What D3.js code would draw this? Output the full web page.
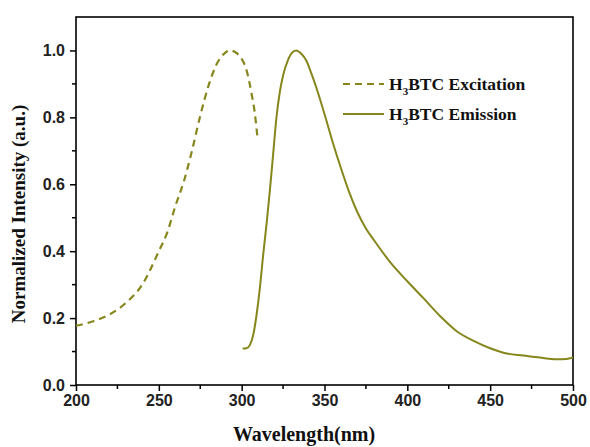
<!DOCTYPE html>
<html><head><meta charset="utf-8">
<script src="https://cdn.jsdelivr.net/npm/d3@7"></script>
<style>body{margin:0;background:#fff}</style>
</head><body><svg id="c" width="590" height="447"></svg>
<script>
const excitationX = [200,210,220,230,240,250,255,260,265,270,275,280,285,290,293,297,300,303,306,308,309.6];
const excitationY = [0.177,0.19,0.21,0.245,0.30,0.40,0.455,0.535,0.607,0.70,0.805,0.895,0.96,0.993,1.0,0.992,0.975,0.94,0.87,0.81,0.736];
const emissionX = [300.6,303,305,307,309,311,313,315,317,319,321,323,325,328,331,333,336,339,342,345,350,355,360,365,370,375,380,390,400,410,420,430,440,450,460,470,480,490,496,500];
const emissionY = [0.109,0.11,0.12,0.15,0.21,0.29,0.39,0.48,0.58,0.69,0.80,0.875,0.925,0.972,0.996,1.0,0.99,0.97,0.932,0.89,0.81,0.725,0.647,0.575,0.515,0.468,0.432,0.365,0.31,0.258,0.205,0.16,0.132,0.11,0.094,0.088,0.082,0.077,0.078,0.082];
const xTicks = [200,250,300,350,400,450,500];
const yTicks = [0.0,0.2,0.4,0.6,0.8,1.0];
const seriesNames = ["H3BTC Excitation","H3BTC Emission"];

const color = "#86861c";
const svg = d3.select("#c");
const L=76, R=573, T=17, B=385;
const x = d3.scaleLinear().domain([200,500]).range([L,R]);
const y = d3.scaleLinear().domain([0,1.1]).range([B,T]);

const tickFont = "'Liberation Sans', Arial, sans-serif";
const serif = "'Liberation Serif', 'Times New Roman', serif";

const xMinor = d3.range(225,500,50);
const yMinor = d3.range(0.1,1.1,0.2);

const gx = svg.append("g").attr("transform",`translate(0,${B})`)
  .call(d3.axisBottom(x).tickValues(xTicks).tickFormat(d3.format("d")).tickSize(6).tickPadding(4));
gx.selectAll(".minor").data(xMinor).enter().append("line")
  .attr("x1",d=>x(d)).attr("x2",d=>x(d)).attr("y1",0).attr("y2",4).attr("stroke","#000").attr("stroke-width",1.5);
const gy = svg.append("g").attr("transform",`translate(${L},0)`)
  .call(d3.axisLeft(y).tickValues(yTicks).tickFormat(d3.format(".1f")).tickSize(6).tickPadding(5));
gy.selectAll(".minor").data(yMinor).enter().append("line")
  .attr("y1",d=>y(d)).attr("y2",d=>y(d)).attr("x1",0).attr("x2",-4).attr("stroke","#000").attr("stroke-width",1.5);

[gx,gy].forEach(g=>{
  g.select(".domain").remove();
  g.selectAll(".tick line").attr("stroke","#000").attr("stroke-width",1.5);
  g.selectAll("text").attr("font-family",tickFont).attr("font-weight","bold").attr("font-size",16).attr("fill","#222");
});
svg.append("rect").attr("x",L).attr("y",T).attr("width",R-L).attr("height",B-T)
  .attr("fill","none").attr("stroke","#000").attr("stroke-width",1.6);

const line = d3.line().x(d=>x(d[0])).y(d=>y(d[1])).curve(d3.curveMonotoneX);
svg.append("path").datum(excitationX.map((v,i)=>[v,excitationY[i]]))
  .attr("d",line).attr("fill","none").attr("stroke",color).attr("stroke-width",2.2).attr("stroke-dasharray","7,5");
svg.append("path").datum(emissionX.map((v,i)=>[v,emissionY[i]]))
  .attr("d",line).attr("fill","none").attr("stroke",color).attr("stroke-width",2);

svg.append("text").attr("x",304).attr("y",441).attr("text-anchor","middle")
  .attr("font-family",serif).attr("font-weight","bold").attr("font-size",20).attr("fill","#111").text("Wavelength(nm)");
svg.append("text").attr("transform",`translate(25,214) rotate(-90)`).attr("text-anchor","middle")
  .attr("font-family",serif).attr("font-weight","bold").attr("font-size",19).attr("fill","#111").text("Normalized Intensity (a.u.)");

const leg = svg.append("g");
[0,1].forEach(i=>{
  const yy = 84 + i*30;
  leg.append("line").attr("x1",343).attr("x2",384).attr("y1",yy).attr("y2",yy)
    .attr("stroke",color).attr("stroke-width",2).attr("stroke-dasharray",i===0?"7,5":null);
  const t = leg.append("text").attr("x",389).attr("y",yy+6).attr("font-family",serif)
    .attr("font-weight","bold").attr("font-size",17.5).attr("fill","#111");
  const name = seriesNames[i];
  t.append("tspan").text(name.slice(0,1));
  t.append("tspan").attr("font-size",11).attr("dy",5).text(name.slice(1,2));
  t.append("tspan").attr("dy",-5).text(name.slice(2));
});
</script></body></html>
